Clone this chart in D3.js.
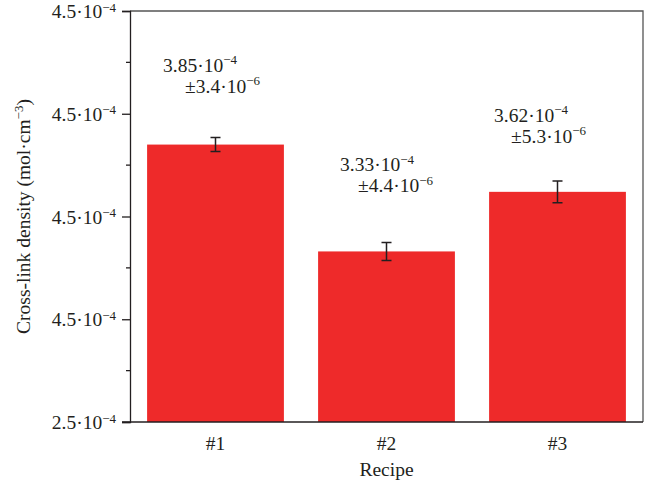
<!DOCTYPE html>
<html><head><meta charset="utf-8">
<script src="https://cdn.jsdelivr.net/npm/d3@7"></script>
<style>
body{margin:0;background:#fff}
svg{display:block}
text{font-family:"Liberation Serif","Times New Roman",serif;fill:#231f20}
</style>
</head><body>
<svg id="c" width="658" height="487"></svg>
<script>
// ---- data ----
const categories = ["#1", "#2", "#3"];
const values = [3.85e-4, 3.33e-4, 3.62e-4];
const errors = [3.4e-6, 4.4e-6, 5.3e-6];
const valueText = ["3.85", "3.33", "3.62"];
const errorText = ["3.4", "4.4", "5.3"];
const valueExp = "−4";
const errorExp = "−6";
const yTickValues = [2.5e-4, 3.0e-4, 3.5e-4, 4.0e-4, 4.5e-4];
const yTickLabels = ["2.5", "4.5", "4.5", "4.5", "4.5"];
const yMinorTicks = [2.75e-4, 3.25e-4, 3.75e-4, 4.25e-4];
const yTickExp = "−4";
const yDomain = [2.5e-4, 4.5e-4];
const xTitle = "Recipe";

// ---- layout ----
const W = 658, H = 487;
const m = {left: 130, right: 15, top: 11, bottom: 65};
const svg = d3.select("#c");
const x = d3.scaleBand().domain(categories).range([m.left, W - m.right]).paddingInner(0.2).paddingOuter(0.1);
const y = d3.scaleLinear().domain(yDomain).range([H - m.bottom, m.top]);
const FS = 19.5, SUP = 13, SUPDY = -7.5;
const barColor = "#ee2a2a";

// frame (top/right)
svg.append("path")
  .attr("d", `M${m.left},${m.top}H${W - m.right}V${H - m.bottom}`)
  .attr("fill", "none").attr("stroke", "#555").attr("stroke-width", 1.3);

// bars
svg.append("g").selectAll("rect").data(values).join("rect")
  .attr("x", (d, i) => x(categories[i]))
  .attr("width", x.bandwidth())
  .attr("y", d => y(d))
  .attr("height", d => y(yDomain[0]) - y(d))
  .attr("fill", barColor);

// error bars
const eb = svg.append("g").attr("stroke", "#231f20").attr("stroke-width", 1.5).attr("fill", "none");
values.forEach((v, i) => {
  const cx = x(categories[i]) + x.bandwidth() / 2;
  const y1 = y(v + errors[i]), y0 = y(v - errors[i]);
  eb.append("path").attr("d", `M${cx},${y1}V${y0}M${cx - 5},${y1}H${cx + 5}M${cx - 5},${y0}H${cx + 5}`);
});

// y axis
const yAxis = d3.axisLeft(y).tickValues(yTickValues).tickSize(8).tickPadding(6).tickFormat("");
const gy = svg.append("g").attr("transform", `translate(${m.left},0)`).call(yAxis);
gy.select(".domain").attr("stroke", "#231f20").attr("stroke-width", 1.3);
gy.selectAll(".tick line").attr("stroke", "#231f20").attr("stroke-width", 1.3);
gy.selectAll(".tick text").each(function(d, i) {
  const t = d3.select(this).attr("font-size", FS).attr("font-family", null).attr("dy", "0.34em").attr("fill", "#231f20");
  t.text(null);
  t.append("tspan").text(yTickLabels[i] + "·10");
  t.append("tspan").attr("font-size", SUP).attr("dy", -6.5).text(yTickExp);
});
svg.append("g").selectAll("line").data(yMinorTicks).join("line")
  .attr("x1", m.left - 4).attr("x2", m.left)
  .attr("y1", d => y(d)).attr("y2", d => y(d))
  .attr("stroke", "#231f20").attr("stroke-width", 1.3);

// x axis
const xAxis = d3.axisBottom(x).tickSize(0).tickPadding(14);
const gx = svg.append("g").attr("transform", `translate(0,${H - m.bottom})`).call(xAxis);
gx.select(".domain").attr("stroke", "#231f20").attr("stroke-width", 1.3)
  .attr("d", `M${m.left - 8},0H${W - m.right}`);
gx.selectAll(".tick text").attr("font-size", FS).attr("font-family", null).attr("fill", "#231f20");

// axis titles
svg.append("text").attr("x", (m.left + W - m.right) / 2).attr("y", 476)
  .attr("text-anchor", "middle").attr("font-size", FS).text(xTitle);
const yt = svg.append("text")
  .attr("transform", `translate(30,${(m.top + H - m.bottom) / 2}) rotate(-90)`)
  .attr("text-anchor", "middle").attr("font-size", FS);
yt.append("tspan").text("Cross-link density (mol·cm");
yt.append("tspan").attr("font-size", SUP).attr("dy", SUPDY).text("−3");
yt.append("tspan").attr("dy", -SUPDY).text(")");

// value annotations
const annDx = [16, 22, 5], annDy = [-73, -80, -70], annIndent = [22, 18, 17], lineGap = 21;
values.forEach((v, i) => {
  const x0 = x(categories[i]) + annDx[i];
  const b = y(v) + annDy[i];
  const t1 = svg.append("text").attr("x", x0).attr("y", b).attr("font-size", FS);
  t1.append("tspan").text(valueText[i] + "·10");
  t1.append("tspan").attr("font-size", SUP).attr("dy", SUPDY).text(valueExp);
  const t2 = svg.append("text").attr("x", x0 + annIndent[i]).attr("y", b + lineGap).attr("font-size", FS);
  t2.append("tspan").text("±" + errorText[i] + "·10");
  t2.append("tspan").attr("font-size", SUP).attr("dy", SUPDY).text(errorExp);
});
</script>
</body></html>
